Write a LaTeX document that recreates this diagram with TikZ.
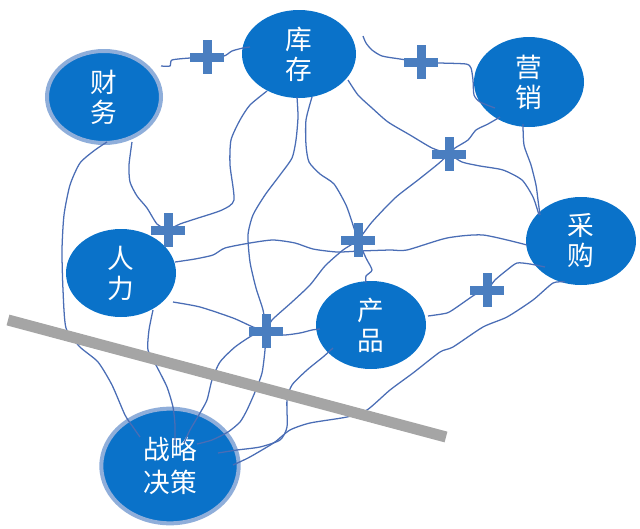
\documentclass[tikz,border=0pt]{standalone}
\usepackage{fontspec}
\newfontfamily\cjk{Noto Sans CJK SC}
\usetikzlibrary{shapes.geometric}
\definecolor{nodefill}{RGB}{10,114,201}
\definecolor{ringcol}{RGB}{143,174,218}
\definecolor{linkcol}{RGB}{74,109,181}
\definecolor{pluscol}{RGB}{74,126,192}
\definecolor{barcol}{RGB}{165,165,165}
\tikzset{
  bubble/.style={ellipse, fill=nodefill, draw=none, inner sep=0pt, text=white,
    align=center, font=\cjk\fontsize{20}{22.5}\selectfont},
  ringed/.style={draw=ringcol, line width=3pt},
  link/.style={draw=linkcol, line width=0.95pt, line join=round},
  bar/.style={draw=barcol, line width=8.3pt},
}
\newcommand{\plussign}[1]{%
  \fill[pluscol] ([shift={(-17,-4.5)}]#1) rectangle ([shift={(17,4.5)}]#1);
  \fill[pluscol] ([shift={(-4.5,-17)}]#1) rectangle ([shift={(4.5,17)}]#1);}
\begin{document}
\begin{tikzpicture}[x=0.75pt,y=-0.75pt]
\useasboundingbox (0,0) rectangle (640,529);
% nodes
\node[bubble, ringed, minimum width=85.5pt, minimum height=69pt] (cw) at (104,97) {财\\务};
\node[bubble, minimum width=85.5pt, minimum height=66pt] (kc) at (299,54) {库\\存};
\node[bubble, minimum width=82.5pt, minimum height=67.5pt] (yx) at (529,82) {营\\销};
\node[bubble, minimum width=82.5pt, minimum height=66pt] (cg) at (581,241) {采\\购};
\node[bubble, minimum width=82.5pt, minimum height=66pt] (rl) at (121,273) {人\\力};
\node[bubble, minimum width=82.5pt, minimum height=66pt] (cp) at (371,325) {产\\品};
\node[bubble, ringed, font=\cjk\fontsize{20}{25}\selectfont, minimum width=103pt, minimum height=86pt] (zl) at (170,466) {战略\\决策};
% junction points
\coordinate (p1) at (207,57);
\coordinate (p2) at (421,62);
\coordinate (p3) at (449,154);
\coordinate (p4) at (168,230);
\coordinate (p5) at (358,240);
\coordinate (p6) at (266,331);
\coordinate (p7) at (487,290);
% connectors
\draw[link] plot[smooth,tension=0.4] coordinates {([shift={(57,-31)}]cw.center) (170,66) (172,60) (190,58) (p1) (224,56) (232,51) (243,48) ([shift={(-49,-7)}]kc.center)};
\draw[link] plot[smooth,tension=0.4] coordinates {([shift={(64,-18)}]kc.center) (366,43) (372,50) (382,56) (400,59) (p2) (440,63) (466,64) (471,68) (473,80) (474,95) (480,102) ([shift={(-34,26)}]yx.center)};
\draw[link] plot[smooth,tension=0.4] coordinates {([shift={(49,26)}]kc.center) (358,95) (372,108) (388,122) (410,135) (432,148) (p3) (462,162) (480,166) (503,170) (522,180) (533,197) ([shift={(-42,-26)}]cg.center)};
\draw[link] plot[smooth,tension=0.4] coordinates {([shift={(-6,42)}]yx.center) (524,145) (531,165) (536,185) (538,200) ([shift={(-41,-26)}]cg.center)};
\draw[link] plot[smooth,tension=0.4] coordinates {([shift={(-29,35)}]yx.center) (488,124) (476,130) (468,140) (455,148) (p3) (438,164) (418,180) (395,198) (372,222) (p5) (343,250) (325,266) (310,285) (292,302) (272,320) (p6) (253,335) (235,347) (220,362) (212,380) (207,400) (200,413) (190,430) ([shift={(14,-23)}]zl.center)};
\draw[link] plot[smooth,tension=0.4] coordinates {([shift={(-2,43)}]kc.center) (298,117) (296,140) (292,158) (280,175) (265,195) (253,215) (248,235) (250,262) (256,288) (263,310) (p6) (265,350) (262,373) (255,392) (247,410) (240,422) (228,432) (212,440) ([shift={(27,-22)}]zl.center)};
\draw[link] plot[smooth,tension=0.4] coordinates {([shift={(13,43)}]kc.center) (306,120) (306,145) (309,162) (320,174) (334,184) (346,205) (353,225) (p5) (366,258) (372,270) (366,276) ([shift={(-5,-42)}]cp.center)};
\draw[link] plot[smooth,tension=0.4] coordinates {([shift={(28,45)}]cw.center) (129,165) (130,182) (137,196) (147,208) (157,224) (p4)};
\draw[link] plot[smooth,tension=0.4] coordinates {([shift={(-32,37)}]kc.center) (250,105) (240,120) (231,140) (230,165) (234,200) (222,210) (195,219) (180,224) (p4)};
\draw[link] plot[smooth,tension=0.4] coordinates {([shift={(3,45)}]cw.center) (95,150) (80,163) (70,185) (64,215) (62,250) (63,290) (66,328) (80,347) (98,362) (112,385) (125,415) (133,427) ([shift={(-30,-29)}]zl.center)};
\draw[link] plot[smooth,tension=0.4] coordinates {([shift={(54,-11)}]rl.center) (195,259) (213,255) (225,248) (250,243) (273,240) (295,243) (313,249) (337,252) (360,251) (390,250) (407,250) (447,238) (483,235) ([shift={(-54,4)}]cg.center)};
\draw[link] plot[smooth,tension=0.4] coordinates {([shift={(52,29)}]rl.center) (200,307) (233,318) (253,327) (p6) (283,335) (300,333) (312,330) ([shift={(-51,4)}]cp.center)};
\draw[link] plot[smooth,tension=0.4] coordinates {([shift={(32,37)}]rl.center) (149,330) (148,350) (157,367) (167,387) (173,407) (175,425) ([shift={(5,-21)}]zl.center)};
\draw[link] plot[smooth,tension=0.4] coordinates {([shift={(-38,23)}]cp.center) (323,357) (307,370) (292,385) (287,400) (287,427) (280,440) (260,447) (237,450) ([shift={(48,-13)}]zl.center)};
\draw[link] plot[smooth,tension=0.4] coordinates {([shift={(57,-9)}]cp.center) (447,313) (457,307) (467,300) (476,294) (p7) (495,280) (507,270) (517,263) (530,264) ([shift={(-36,26)}]cg.center)};
\draw[link] plot[smooth,tension=0.4] coordinates {([shift={(-16,41)}]cg.center) (553,283) (533,300) (507,317) (483,327) (453,347) (440,352) (413,373) (390,390) (367,410) (347,417) (310,423) (290,430) (275,442) (262,450) (248,458) ([shift={(63,-1)}]zl.center)};
% plus signs
\plussign{p1}
\plussign{p2}
\plussign{p3}
\plussign{p4}
\plussign{p5}
\plussign{p6}
\plussign{p7}
% divider bar
\coordinate (barA) at (8,320);
\coordinate (barB) at (446,437);
\draw[bar] (barA) -- (barB);
\end{tikzpicture}
\end{document}
